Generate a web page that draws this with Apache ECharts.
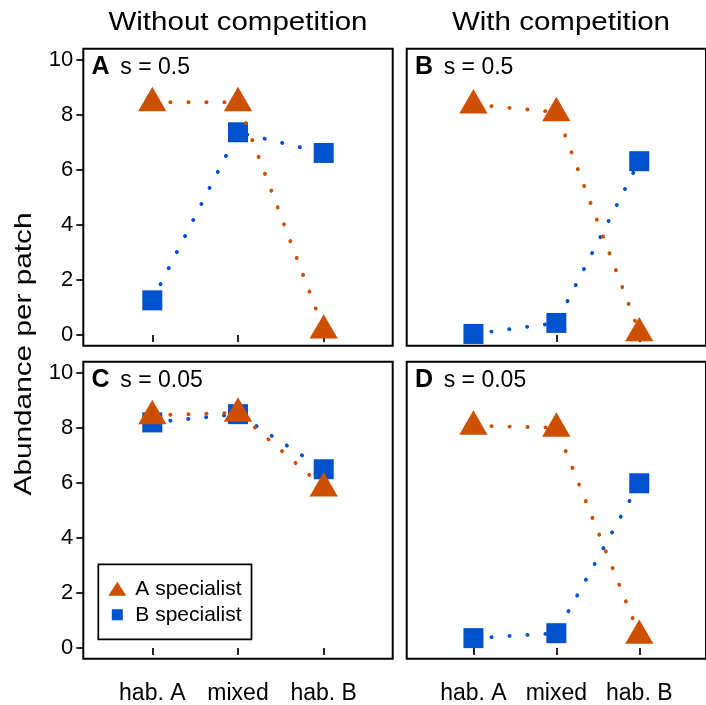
<!DOCTYPE html>
<html>
<head>
<meta charset="utf-8">
<script src="https://cdn.jsdelivr.net/npm/echarts@6/dist/echarts.min.js"></script>
<style>
html,body{margin:0;padding:0;background:#fff;}
#chart{width:706px;height:705px;}
</style>
</head>
<body>
<div id="chart"></div>
<script>
// ---- data ----
const categories = ['hab. A', 'mixed', 'hab. B'];
const yTicks = [0, 2, 4, 6, 8, 10];
const colTitles = ['Without competition', 'With competition'];
const yTitle = 'Abundance per patch';
const panelLetters = ['A', 'B', 'C', 'D'];
const panelS = ['s = 0.5', 's = 0.5', 's = 0.05', 's = 0.05'];
const seriesNames = ['A specialist', 'B specialist'];

// A specialist (triangles)
const aNoComp05 = [8.45, 8.45, 0.20];
const aComp05   = [8.37, 8.09, 0.10];
const aNoComp005 = [8.45, 8.54, 5.83];
const aComp005   = [8.07, 8.00, 0.48];
// B specialist (squares)
const bNoComp05 = [1.26, 7.36, 6.61];
const bComp05   = [0.04, 0.44, 6.31];
const bNoComp005 = [8.19, 8.49, 6.49];
const bComp005   = [0.36, 0.54, 5.98];

// ---- styling ----
const FONT = 'Liberation Sans, Arial, Helvetica, sans-serif';
const ORANGE = '#CD5000';
const BLUE = '#0051CC';

const grids = [
  {left: 83.3, top: 48.8, width: 309.4, height: 297},
  {left: 406.7, top: 48.8, width: 309.0, height: 297},
  {left: 83.3, top: 361.8, width: 309.4, height: 297},
  {left: 406.7, top: 361.8, width: 309.0, height: 297}
];
const panelData = [
  {a: aNoComp05, b: bNoComp05},
  {a: aComp05, b: bComp05},
  {a: aNoComp005, b: bNoComp005},
  {a: aComp005, b: bComp005}
];

const catIdx = categories.map((c, i) => i + 1);

const xAxes = grids.map((g, i) => ({
  gridIndex: i, type: 'value', min: 0.195, max: 3.805,
  axisLine: {show: false},
  splitLine: {show: false},
  axisTick: {show: true, customValues: catIdx, length: 7, lineStyle: {color: '#000', width: 1.7}},
  axisLabel: {show: i >= 2, customValues: catIdx, margin: 23, fontSize: 23, color: '#000', fontFamily: FONT,
    formatter: v => categories[Math.round(v) - 1] || ''}
}));
const yAxes = grids.map((g, i) => ({
  gridIndex: i, type: 'value', min: -0.39, max: 10.39,
  axisLine: {show: false},
  splitLine: {show: false},
  axisTick: {show: i % 2 === 0, customValues: yTicks, length: 7, lineStyle: {color: '#000', width: 1.7}},
  axisLabel: {show: i % 2 === 0, customValues: yTicks, margin: 10, fontSize: 22, color: '#000', fontFamily: FONT}
}));

const dotted = (color) => ({color: color, width: 3.8, type: [0.3, 17.7], cap: 'round'});

const series = [];
panelData.forEach((p, i) => {
  series.push({
    name: seriesNames[1], type: 'line', xAxisIndex: i, yAxisIndex: i,
    data: p.b.map((v, k) => [catIdx[k], v]),
    symbol: 'rect', symbolSize: 20,
    itemStyle: {color: BLUE, borderWidth: 0},
    lineStyle: dotted(BLUE),
    silent: true, emphasis: {disabled: true}, animation: false, z: 2
  });
  series.push({
    name: seriesNames[0], type: 'line', xAxisIndex: i, yAxisIndex: i,
    data: p.a.map((v, k) => [catIdx[k], v]),
    symbol: 'triangle', symbolSize: [28.3, 24.4], symbolOffset: [0, -3.2],
    itemStyle: {color: ORANGE, borderWidth: 0},
    lineStyle: dotted(ORANGE),
    silent: true, emphasis: {disabled: true}, animation: false, z: 3
  });
});

const triIcon = 'path://M0,0L0,0.001M22,14L22,13.999M9,0L18,14L0,14Z';
const sqIcon = 'path://M0,0L0,0.001M22,14L22,13.999M3.5,1.5L14.5,1.5L14.5,12.5L3.5,12.5Z';

const graphics = [];
// column titles
graphics.push({type: 'text', x: 238, y: 23, scaleX: 1.18, silent: true,
  style: {text: colTitles[0], font: '25px ' + FONT, fill: '#000', textAlign: 'center', textVerticalAlign: 'middle', align: 'center', verticalAlign: 'middle'}});
graphics.push({type: 'text', x: 561, y: 23, scaleX: 1.18, silent: true,
  style: {text: colTitles[1], font: '25px ' + FONT, fill: '#000', textAlign: 'center', textVerticalAlign: 'middle', align: 'center', verticalAlign: 'middle'}});
// y title
graphics.push({type: 'text', x: 24, y: 354, rotation: Math.PI / 2, scaleX: 1.24, silent: true,
  style: {text: yTitle, font: '24px ' + FONT, fill: '#000', textAlign: 'center', textVerticalAlign: 'middle', align: 'center', verticalAlign: 'middle'}});
// panel labels
grids.forEach((g, i) => {
  graphics.push({type: 'text', x: g.left + 8.2, y: g.top + 18.6, silent: true,
    style: {text: panelLetters[i], font: 'bold 25px ' + FONT, fill: '#000', textAlign: 'left', textVerticalAlign: 'middle', align: 'left', verticalAlign: 'middle'}});
  graphics.push({type: 'text', x: g.left + 37, y: g.top + 18.6, silent: true,
    style: {text: panelS[i], font: '23px ' + FONT, fill: '#000', textAlign: 'left', textVerticalAlign: 'middle', align: 'left', verticalAlign: 'middle'}});
});

const option = {
  animation: false,
  backgroundColor: '#fff',
  grid: grids.map(g => Object.assign({show: true, borderColor: '#000', borderWidth: 2, backgroundColor: 'transparent', containLabel: false}, g)),
  xAxis: xAxes,
  yAxis: yAxes,
  legend: {
    data: [{name: seriesNames[0], icon: triIcon}, {name: seriesNames[1], icon: sqIcon}],
    orient: 'vertical', left: 98.3, top: 564.3,
    padding: [14, 10, 14, 10], itemGap: 5, itemWidth: 22, itemHeight: 14,
    borderColor: '#000', borderWidth: 1.7, backgroundColor: '#fff',
    itemStyle: {borderWidth: 0},
    textStyle: {fontSize: 21, color: '#000', fontFamily: FONT},
    selectedMode: false
  },
  graphic: graphics,
  series: series
};

const chart = echarts.init(document.getElementById('chart'), null, {renderer: 'canvas'});
chart.setOption(option);
</script>
</body>
</html>
